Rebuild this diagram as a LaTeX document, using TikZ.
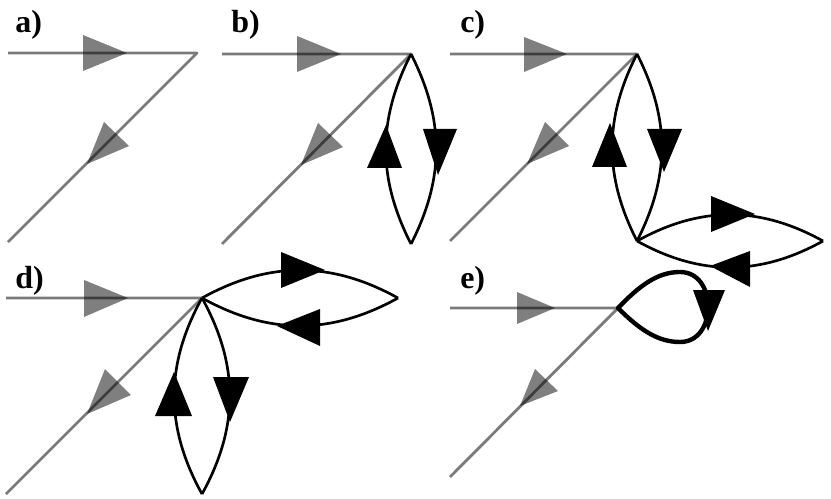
\documentclass[tikz,border=0pt]{standalone}
\usepackage{fontspec}
\setmainfont{Liberation Serif}
\tikzset{
	ray/.style={draw=black,opacity=.52,line width=2.1pt},
	grayhead/.style={fill=black,opacity=.5},
	blackhead/.style={fill=black},
	arc/.style={draw=black,line width=2pt},
	thickarc/.style={draw=black,line width=3.3pt},
	tag/.style={inner sep=0pt,anchor=base west,font=\fontsize{24}{24}\selectfont\bfseries}
}
\begin{document}
\begin{tikzpicture}[x=.75pt,y=-.75pt,line join=round]
	\useasboundingbox (0,0) rectangle (831,499);
	%Các đỉnh
	\path (8,53) coordinate (A1) (197,53) coordinate (O1) (8,242) coordinate (B1)
	(222,54) coordinate (A2) (411,54) coordinate (O2) (222,244) coordinate (B2)
	(450,54) coordinate (A3) (637,54) coordinate (O3) (450,241) coordinate (B3)
	(6,298) coordinate (A4) (202,298) coordinate (O4) (6,494) coordinate (B4)
	(450,308) coordinate (A5) (618,308) coordinate (O5) (450,477) coordinate (B5)
	(411,244) coordinate (L2)
	(637,241) coordinate (L3) (823,241) coordinate (R3)
	(202,494) coordinate (L4) (398,298) coordinate (R4)
	(680,272) coordinate (T5) (708,307) coordinate (M5) (680,342) coordinate (D5);
	%Hai tia xám
	\foreach \i in {1,...,5}{
		\draw[ray] (A\i)--(O\i)--(B\i);}
	\foreach \a/\b/\c/\d/\e/\f in {83/35/83/71/127/53,87/164/104/122/129/146,
		297/36/297/72/341/54,301/165/318/123/343/147,
		524/37/524/72/567/54,527/164/545/122/569/146,
		84/280/84/317/128/298,87/414/105/369/131/395,
		517/292/517/324/555/308,520/406/535/369/558/391}{
		\fill[grayhead] (\a,\b)--(\c,\d)--(\e,\f)--cycle;}
	%Các cung đen
	\draw[arc] (O2) to[bend right=27] (L2) (O2) to[bend left=27] (L2);
	\draw[arc] (O3) to[bend right=27] (L3) (O3) to[bend left=27] (L3);
	\draw[arc] (L3) to[bend left=29] (R3) (L3) to[bend right=29] (R3);
	\draw[arc] (O4) to[bend right=29] (L4) (O4) to[bend left=29] (L4);
	\draw[arc] (O4) to[bend left=29] (R4) (O4) to[bend right=29] (R4);
	\draw[thickarc] (O5) .. controls (640,285) and (658,272) .. (T5)
	.. controls (698,272) and (708,288) .. (M5)
	.. controls (708,326) and (698,342) .. (D5)
	.. controls (658,342) and (640,330) .. (O5)--cycle;
	\foreach \a/\b/\c/\d/\e/\f in {386/125/367/168/402/168,423/129/457/129/438/175,
		610/123/592/167/627/167,647/129/682/129/664/172,
		711/196/711/232/755/214,710/266/750/251/750/287,
		174/372/155/416/192/416,213/377/249/377/230/422,
		281/252/281/288/325/270,277/326/320/309/320/346,
		693/290/725/290/708/331}{
		\fill[blackhead] (\a,\b)--(\c,\d)--(\e,\f)--cycle;}
	%Nhãn
	\foreach \t/\x/\y in {a/15/33,b/231/33,c/460/33,d/15/288,e/460/288}{
		\node[tag] (tag\t) at (\x,\y) {\t)};}
\end{tikzpicture}
\end{document}
